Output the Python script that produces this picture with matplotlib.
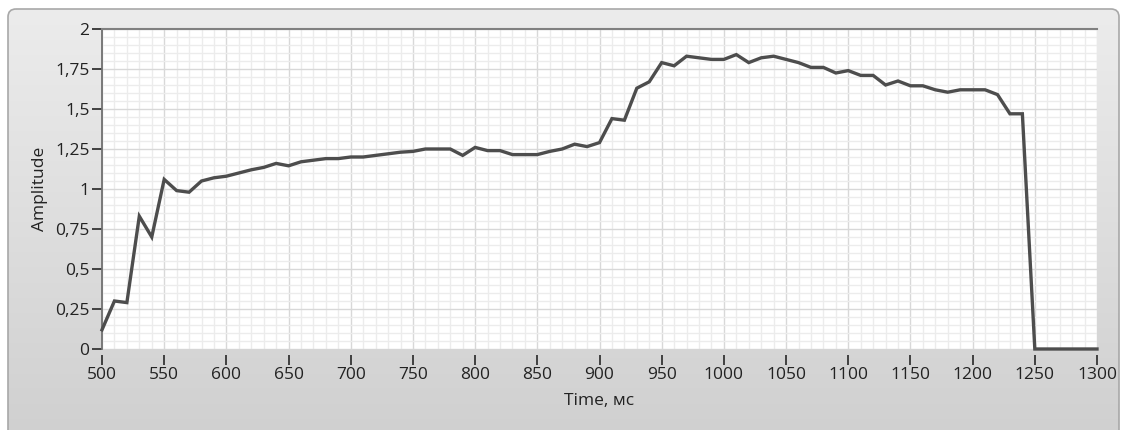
import numpy as np
import matplotlib
matplotlib.use("Agg")
import matplotlib.pyplot as plt
from matplotlib.patches import FancyBboxPatch
from matplotlib.ticker import MultipleLocator

plt.rcParams['font.family'] = ['Open Sans', 'DejaVu Sans']

# datos
time_ms = list(range(500, 1301, 10))
amplitude = [0.12, 0.30, 0.29, 0.83, 0.70, 1.06, 0.99, 0.98, 1.05, 1.07,
             1.08, 1.10, 1.12, 1.135, 1.16, 1.145, 1.17, 1.18, 1.19, 1.19,
             1.20, 1.20, 1.21, 1.22, 1.23, 1.235, 1.25, 1.25, 1.25, 1.21,
             1.26, 1.24, 1.24, 1.215, 1.215, 1.215, 1.235, 1.25, 1.28, 1.265,
             1.29, 1.44, 1.43, 1.63, 1.67, 1.79, 1.77, 1.83, 1.82, 1.81,
             1.81, 1.84, 1.79, 1.82, 1.83, 1.81, 1.79, 1.76, 1.76, 1.725,
             1.74, 1.71, 1.71, 1.65, 1.675, 1.645, 1.645, 1.62, 1.605, 1.62,
             1.62, 1.62, 1.59, 1.47, 1.47, 0.0, 0.0, 0.0, 0.0, 0.0, 0.0]
x_ticks = list(range(500, 1301, 50))
y_ticks = [0, 0.25, 0.5, 0.75, 1, 1.25, 1.5, 1.75, 2]
y_labels = ["0", "0,25", "0,5", "0,75", "1", "1,25", "1,5", "1,75", "2"]

W, H = 1127, 430
fig = plt.figure(figsize=(W / 100, H / 100), dpi=100)
fig.patch.set_facecolor("white")

# marco gris con degradado
bg = fig.add_axes([0, 0, 1, 1])
bg.set_xlim(0, W)
bg.set_ylim(H, 0)
bg.axis("off")
frame = FancyBboxPatch((8, 9), W - 16, H + 20, boxstyle="round,pad=0,rounding_size=8",
                       facecolor="none", edgecolor="#a8a8a8", lw=1.2)
bg.add_patch(frame)
grad = np.linspace(0, 1, 256).reshape(-1, 1)
img = bg.imshow(grad, extent=(8, W - 8, H + 20, 9), cmap=plt.cm.colors.LinearSegmentedColormap.from_list(
    "g", ["#ececec", "#cfcfcf"]), aspect="auto", zorder=0)
img.set_clip_path(frame)

ax = fig.add_axes([102 / W, 1 - 349 / H, (1097 - 102) / W, (349 - 29) / H])
ax.set_facecolor("white")
ax.plot(time_ms, amplitude, color="#4d4d4d", lw=2.4, solid_joinstyle="miter", clip_on=False, zorder=3)

ax.set_xlim(500, 1300)
ax.set_ylim(0, 2)
ax.set_xticks(x_ticks)
ax.set_yticks(y_ticks)
ax.set_yticklabels(y_labels)
ax.xaxis.set_minor_locator(MultipleLocator(10))
ax.yaxis.set_minor_locator(MultipleLocator(0.05))
ax.grid(True, which="minor", color="#ececec", lw=1)
ax.grid(True, which="major", color="#d8d8d8", lw=1)
ax.set_axisbelow(True)

for s in ["right", "bottom"]:
    ax.spines[s].set_visible(False)
ax.spines["bottom"].set_position(("outward", 4))
ax.spines["left"].set_color("#707070")
ax.spines["left"].set_linewidth(1.3)
ax.spines["top"].set_color("#808080")
ax.spines["top"].set_linewidth(1.5)

ax.tick_params(axis="both", which="major", direction="out", length=7, width=1.4,
               color="#404040", labelsize=12.5, labelcolor="#222222")
ax.tick_params(axis="x", pad=2)
ax.tick_params(axis="y", pad=2)
ax.tick_params(which="minor", length=0)

ax.set_xlabel("Time, мс", fontsize=12.5, color="#222222", labelpad=7)
ax.set_ylabel("Amplitude", fontsize=12.5, color="#222222", labelpad=5)

fig.savefig("out.png", dpi=100, facecolor=fig.get_facecolor())
